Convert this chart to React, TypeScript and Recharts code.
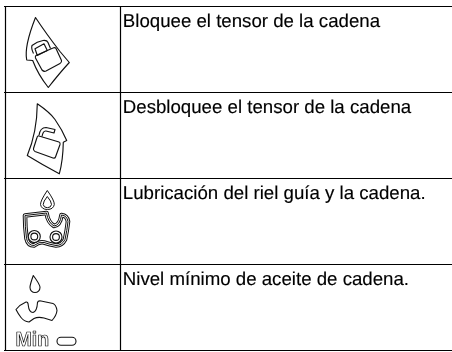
import { ComposedChart, Scatter, XAxis, YAxis, ReferenceLine } from "recharts";

// table rows, top to bottom
const descriptions = [
  "Bloquee el tensor de la cadena",
  "Desbloquee el tensor de la cadena",
  "Lubricación del riel guía y la cadena.",
  "Nivel mínimo de aceite de cadena.",
];
const iconNames = ["locked", "unlocked", "lube", "minOil"];
const rowEdges = [0, 1, 2, 3, 4];
const columnEdges = [5.5, 120.5];

const WIDTH = 452;
const HEIGHT = 352;
const INK = "#111";

const iconRows = iconNames.map((name, row) => ({ col: 0, row, name }));
const textRows = descriptions.map((text, row) => ({ col: 122.8, row, text }));

// icons are drawn in cell coordinates: x from the page edge, y from the row top
function LockedIcon() {
  return (
    <g fill="none" stroke={INK} strokeWidth={1.15} strokeLinejoin="round">
      <path d="M35.5 11 Q46 27 60 45 L69.3 56 Q60 66 48.3 81 Q38 68 32.7 54 L26.7 53.5 Q24 40 35.5 11Z" />
      <path d="M36 49 L53 41.5 Q55 40.5 56 42 L61.5 54 Q62 56 60 57 L46 64.5 Q44 65.5 42 63.5 L35.5 51.5 Q35 50 36 49Z" />
      <path d="M33.5 47 Q31 42 32 39 Q37 35 43 34 Q47 33.5 48 36 L50.5 42" />
      <path d="M35 42.3 L44 37.3 L47.3 44 L37.3 49Z" />
    </g>
  );
}

function UnlockedIcon() {
  return (
    <g fill="none" stroke={INK} strokeWidth={1.15} strokeLinejoin="round">
      <path d="M37.3 11.3 Q50 20 55 27 Q62 37 66.7 48 L63.3 49.7 Q63 68 59.3 81.3 Q42 72 27.3 63 Q37 40 37.3 11.3Z" />
      <path d="M39 43.5 L59 49.5 Q60.5 50 60 52 L55.5 64.5 Q55 66 53 65.5 L35 59 Q33 58 33.5 56 L37 45 Q37.5 43 39 43.5Z" />
      <path d="M39 43 Q40 35 46 35 L55 37 L54 40.5 L46 38.5 Q43 38 42 44" />
    </g>
  );
}

const lubeLink =
  "M25 37 L46.5 34.5 Q48 44 54 47.5 Q60 47 61.5 36.5 Q67 37 68 43 Q67 52 65 61 Q62 67 56 67 Q50 66 44 64 Q39 63 34 67 Q28 67 26.5 60 Q25 48 25 37Z";

function LubeIcon() {
  return (
    <g fill="none" stroke={INK} strokeLinejoin="round">
      <path d="M47.3 12 Q54.5 22 54.3 26 A7 6 0 0 1 40.5 26 Q40.5 22 47.3 12Z" strokeWidth={1} />
      <path d="M47.3 18 Q51.5 23 51.5 26 A4.2 3.8 0 0 1 43.2 26 Q43.2 23 47.3 18Z" strokeWidth={1} />
      <path d={lubeLink} strokeWidth={4.6} />
      <path d={lubeLink} strokeWidth={2.6} stroke="#fff" />
      <path d={lubeLink} strokeWidth={1} />
      <circle cx={34.3} cy={58} r={6} fill="#fff" strokeWidth={1.1} />
      <circle cx={34.3} cy={58} r={3.4} strokeWidth={1.1} />
      <circle cx={56} cy={58.5} r={6} fill="#fff" strokeWidth={1.1} />
      <circle cx={56} cy={58.5} r={3.4} strokeWidth={1.1} />
    </g>
  );
}

function MinOilIcon() {
  return (
    <g fill="none" stroke={INK} strokeWidth={1.1} strokeLinejoin="round">
      <path d="M33.3 11 Q40 20 40 23 A5 5 0 0 1 30 23 Q30 20 33.3 11Z" />
      <path d="M16 45 Q20 40 26 37.5 Q28 37 28.3 41 Q29 48 33 48 Q37 47 37.5 38 Q38 36 41 36.5 L53 39 Q56 40 57 46 Q56.5 51 52 56 L44 53.5 Q38 52 34 54 L29 57.5 Q24 57 21 53 Q18 49 16 45Z" />
      <text x={15.5} y={81} fontFamily="Liberation Sans" fontWeight="bold" fontSize={19.5} fill="#fff" stroke={INK} strokeWidth={0.7}>
        Min
      </text>
      <rect x={57} y={72.8} width={19} height={8} rx={4} />
    </g>
  );
}

const iconByName: Record<string, () => any> = {
  locked: LockedIcon,
  unlocked: UnlockedIcon,
  lube: LubeIcon,
  minOil: MinOilIcon,
};

function IconCell({ cx, cy, payload }: any) {
  const Icon = iconByName[payload.name];
  return (
    <g transform={`translate(${cx},${cy})`}>
      <Icon />
    </g>
  );
}

function TextCell({ cx, cy, payload }: any) {
  return (
    <text x={cx} y={cy + 20.5} fontFamily="Liberation Sans" fontSize={18.67} fill="#000" stroke="#000" strokeWidth={0.15} textRendering="geometricPrecision">
      {payload.text}
    </text>
  );
}

export default function App() {
  return (
    <div style={{ position: "absolute", left: 0, top: 0, width: WIDTH, height: HEIGHT, willChange: "transform" }}>
      <ComposedChart width={WIDTH} height={HEIGHT} margin={{ top: 6.5, right: 0, bottom: 1.5, left: 0 }}>
        <XAxis type="number" dataKey="col" domain={[0, WIDTH]} hide />
        <YAxis type="number" dataKey="row" domain={[0, 4]} reversed hide />
        {rowEdges.map((r) => (
          <ReferenceLine key={`r${r}`} segment={[{ x: 4, y: r }, { x: WIDTH, y: r }]} stroke="#000" strokeWidth={1.2} />
        ))}
        {columnEdges.map((c) => (
          <ReferenceLine key={`c${c}`} segment={[{ x: c, y: 0 }, { x: c, y: 4 }]} stroke="#000" strokeWidth={1.2} />
        ))}
        <Scatter data={iconRows} dataKey="row" shape={IconCell} isAnimationActive={false} />
        <Scatter data={textRows} dataKey="row" shape={TextCell} isAnimationActive={false} />
      </ComposedChart>
    </div>
  );
}
